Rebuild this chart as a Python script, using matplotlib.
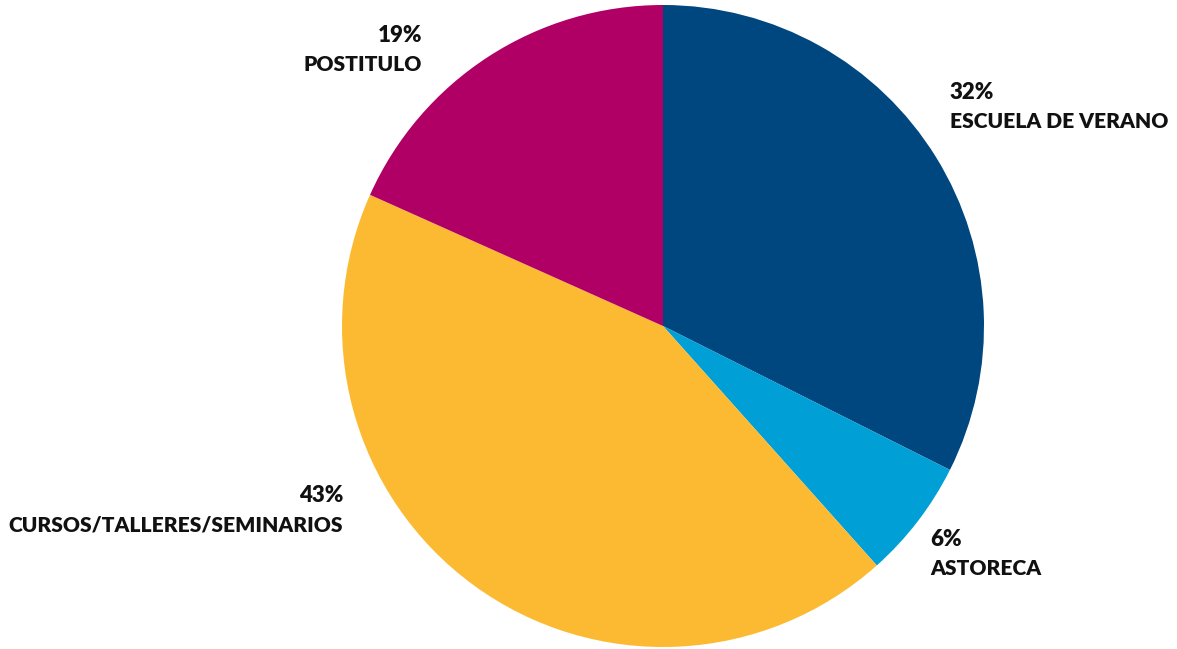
import matplotlib
matplotlib.use("Agg")
import matplotlib.pyplot as plt

categories = ["ESCUELA DE VERANO", "ASTORECA", "CURSOS/TALLERES/SEMINARIOS", "POSTITULO"]
shares = [32.4, 6.0, 43.3, 18.3]
pct_labels = ["32%", "6%", "43%", "19%"]
colors = ["#00467F", "#00A0D6", "#FBBA31", "#B00066"]

W, H = 1177, 649
fig = plt.figure(figsize=(W / 100, H / 100), dpi=100)

# pie centred at (663, 326) px with radius 321 px
cx, cy, r = 663, 326, 321
ax = fig.add_axes([(cx - r) / W, (H - cy - r) / H, 2 * r / W, 2 * r / H])
ax.pie(shares, colors=colors, startangle=90, counterclock=False,
       wedgeprops=dict(linewidth=0))
ax.set_xlim(-1, 1)
ax.set_ylim(-1, 1)
ax.set_aspect("equal")
ax.axis("off")

# label anchors in pixels: (x, baseline of pct line, alignment)
anchors = [(950, 99, "left"), (930, 546, "left"), (343, 502, "right"), (422, 42, "right")]
font = dict(family=["Lato", "DejaVu Sans"], fontweight="heavy", fontsize=15.1, color="#111111")
for (x, y, ha), pct, name in zip(anchors, pct_labels, categories):
    fig.text(x / W, 1 - y / H, pct, ha=ha, va="baseline", fontsize=16,
             family=font["family"], fontweight="heavy", color=font["color"])
    fig.text(x / W, 1 - (y + 29) / H, name, ha=ha, va="baseline", **font)

fig.savefig("out.png", dpi=100)
